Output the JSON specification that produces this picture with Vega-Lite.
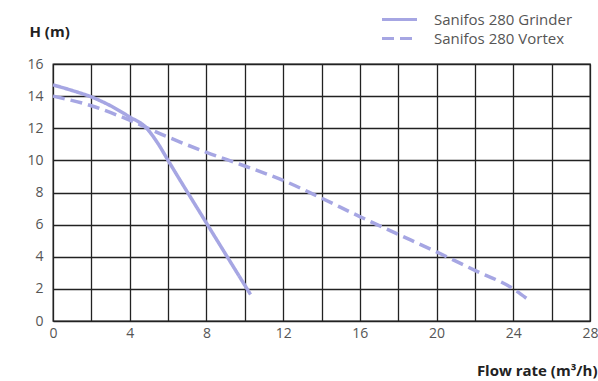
{
  "$schema": "https://vega.github.io/schema/vega-lite/v6.json",
  "width": 537,
  "height": 257,
  "autosize": "none",
  "padding": {"left": 53, "top": 64, "right": 8, "bottom": 60},
  "background": "white",
  "config": {
    "view": {"stroke": "#222", "strokeWidth": 1.3},
    "font": "Open Sans"
  },
  "data": {
    "values": [
      {"series": "Sanifos 280 Grinder", "q": 0, "h": 14.7},
      {"series": "Sanifos 280 Grinder", "q": 1, "h": 14.35},
      {"series": "Sanifos 280 Grinder", "q": 2, "h": 13.95},
      {"series": "Sanifos 280 Grinder", "q": 3, "h": 13.4},
      {"series": "Sanifos 280 Grinder", "q": 4, "h": 12.7},
      {"series": "Sanifos 280 Grinder", "q": 4.8, "h": 12.1},
      {"series": "Sanifos 280 Grinder", "q": 5.5, "h": 11},
      {"series": "Sanifos 280 Grinder", "q": 6, "h": 10},
      {"series": "Sanifos 280 Grinder", "q": 8, "h": 6.1},
      {"series": "Sanifos 280 Grinder", "q": 10.3, "h": 1.65},
      {"series": "Sanifos 280 Vortex", "q": 0, "h": 14},
      {"series": "Sanifos 280 Vortex", "q": 2, "h": 13.4},
      {"series": "Sanifos 280 Vortex", "q": 4, "h": 12.5},
      {"series": "Sanifos 280 Vortex", "q": 6, "h": 11.45},
      {"series": "Sanifos 280 Vortex", "q": 8, "h": 10.5},
      {"series": "Sanifos 280 Vortex", "q": 10, "h": 9.65},
      {"series": "Sanifos 280 Vortex", "q": 12, "h": 8.75},
      {"series": "Sanifos 280 Vortex", "q": 14, "h": 7.65},
      {"series": "Sanifos 280 Vortex", "q": 16, "h": 6.5},
      {"series": "Sanifos 280 Vortex", "q": 18, "h": 5.4},
      {"series": "Sanifos 280 Vortex", "q": 20, "h": 4.3},
      {"series": "Sanifos 280 Vortex", "q": 22, "h": 3.15},
      {"series": "Sanifos 280 Vortex", "q": 24, "h": 2.0},
      {"series": "Sanifos 280 Vortex", "q": 24.7, "h": 1.4}
    ]
  },
  "mark": {"type": "line", "strokeWidth": 3.5, "interpolate": "monotone"},
  "encoding": {
    "x": {
      "field": "q",
      "type": "quantitative",
      "scale": {"domain": [0, 28], "nice": false, "zero": false},
      "axis": {
        "values": [0, 2, 4, 6, 8, 10, 12, 14, 16, 18, 20, 22, 24, 26, 28],
        "labelExpr": "datum.value % 4 === 0 ? datum.label : ''",
        "labelOverlap": false,
        "labelFlush": false,
        "grid": true,
        "gridColor": "#222",
        "gridWidth": 1.3,
        "gridOpacity": 1,
        "domain": false,
        "ticks": false,
        "labelPadding": 5,
        "labelFontSize": 14,
        "labelColor": "#555",
        "title": "Flow rate (m³/h)",
        "titleX": 544,
        "titleY": 49,
        "titleAlign": "right",
        "titleBaseline": "middle",
        "titleFontSize": 15,
        "titleFontWeight": "bold",
        "titleColor": "#222"
      }
    },
    "y": {
      "field": "h",
      "type": "quantitative",
      "scale": {"domain": [0, 16], "nice": false},
      "axis": {
        "values": [0, 2, 4, 6, 8, 10, 12, 14, 16],
        "labelOverlap": false,
        "labelFlush": false,
        "grid": true,
        "gridColor": "#222",
        "gridWidth": 1.3,
        "gridOpacity": 1,
        "domain": false,
        "ticks": false,
        "labelPadding": 10,
        "labelFontSize": 14,
        "labelColor": "#555",
        "title": "H (m)",
        "titleAngle": 0,
        "titleX": -24,
        "titleY": -33,
        "titleAlign": "left",
        "titleBaseline": "middle",
        "titleFontSize": 15,
        "titleFontWeight": "bold",
        "titleColor": "#222"
      }
    },
    "color": {
      "field": "series",
      "type": "nominal",
      "scale": {"domain": ["Sanifos 280 Grinder", "Sanifos 280 Vortex"], "range": ["#a6a6e3", "#a6a6e3"]},
      "legend": {
        "title": null,
        "orient": "none",
        "legendX": 339,
        "legendY": -52,
        "symbolType": "M-3.5,0H3.5",
        "symbolSize": 100,
        "symbolStrokeWidth": 3,
        "labelFontSize": 15,
        "labelColor": "#555",
        "labelOffset": 27,
        "rowPadding": 3
      }
    },
    "strokeDash": {
      "field": "series",
      "type": "nominal",
      "scale": {"domain": ["Sanifos 280 Grinder", "Sanifos 280 Vortex"], "range": [[1, 0], [12, 6]]},
      "legend": {
        "title": null,
        "orient": "none",
        "legendX": 339,
        "legendY": -52,
        "symbolType": "M-3.5,0H3.5",
        "symbolSize": 100,
        "symbolStrokeWidth": 3,
        "labelFontSize": 15,
        "labelColor": "#555",
        "labelOffset": 27,
        "rowPadding": 3
      }
    }
  }
}
